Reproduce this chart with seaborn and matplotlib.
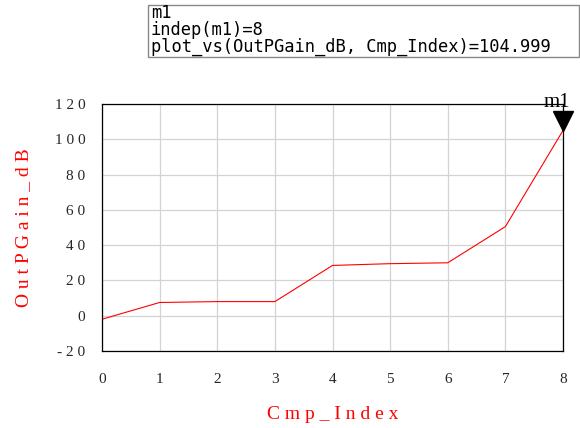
import matplotlib
matplotlib.use("Agg")
import matplotlib.pyplot as plt
import matplotlib.transforms as mtransforms
from matplotlib.patches import Rectangle
import seaborn as sns
import pandas as pd

cmp_index = [0, 1, 2, 3, 4, 5, 6, 7, 8]
out_gain_db = [-2.0, 7.5, 8.0, 8.0, 28.5, 29.5, 30.0, 50.5, 104.999]
x_ticks = [0, 1, 2, 3, 4, 5, 6, 7, 8]
y_ticks = [-20, 0, 20, 40, 60, 80, 100, 120]
y_ticklabels = ["- 2 0", "0", "2 0", "4 0", "6 0", "8 0", "1 0 0", "1 2 0"]
marker_name = "m1"
marker_x = 8
marker_y = 104.999
readout_lines = ["m1", "indep(m1)=8", "plot_vs(OutPGain_dB, Cmp_Index)=104.999"]

sns.set_style("white")
plt.rcParams['font.family'] = ['Liberation Serif', 'DejaVu Sans']

fig = plt.figure(figsize=(5.8, 4.28), dpi=100)
ax = fig.add_axes([102/580, 77/428, 461/580, 247/428])

df = pd.DataFrame({"Cmp_Index": cmp_index, "OutPGain_dB": out_gain_db})
sns.lineplot(data=df, x="Cmp_Index", y="OutPGain_dB", ax=ax, color="red", linewidth=0.8)

ax.set_xlim(0, 8)
ax.set_ylim(-20, 120)
ax.set_xticks(x_ticks)
ax.set_xticklabels([str(v) for v in x_ticks])
ax.set_yticks(y_ticks)
ax.set_yticklabels(y_ticklabels)
ax.set_xticks([v + 0.5 for v in x_ticks[:-1]], minor=True)
ax.set_yticks([v + 10 for v in y_ticks[:-1]], minor=True)
ax.tick_params(axis="both", which="major", direction="out", length=7, width=0.9,
               color="black", labelsize=11)
ax.tick_params(axis="x", which="major", pad=9)
ax.tick_params(axis="y", which="major", pad=5)
ax.tick_params(axis="both", which="minor", direction="out", length=4, width=0.8, color="black")
ax.grid(True, which="major", color="#d3d3d3", linewidth=0.9)
for s in ax.spines.values():
    s.set_color("black")
    s.set_linewidth(0.9)

ax.set_xlabel("C m p _ I n d e x", color="red", fontsize=14, labelpad=14)
ax.set_ylabel("O u t P G a i n _ d B", color="red", fontsize=14, labelpad=16)

# marker m1
off = mtransforms.offset_copy(ax.transData, fig=fig, x=0, y=9, units="dots")
ax.plot([marker_x], [marker_y], marker="v", markersize=14, color="black",
        transform=off, clip_on=False, linestyle="none")
ax.text(marker_x, marker_y, marker_name, fontsize=15, color="black",
        transform=mtransforms.offset_copy(ax.transData, fig=fig, x=-19, y=18, units="dots"),
        ha="left", va="bottom", clip_on=False)

# readout box
fig.patches.append(Rectangle((148/580, 1 - 57/428), 431/580, 52/428,
                             transform=fig.transFigure, fill=False,
                             edgecolor="#888888", linewidth=1.0))
ys = [13, 30, 47]
for line, yy in zip(readout_lines, ys):
    fig.text(151/580, 1 - yy/428, line, fontsize=12.3, family="DejaVu Sans Mono",
             va="center", ha="left", color="black")

fig.savefig("out.png", dpi=100)
